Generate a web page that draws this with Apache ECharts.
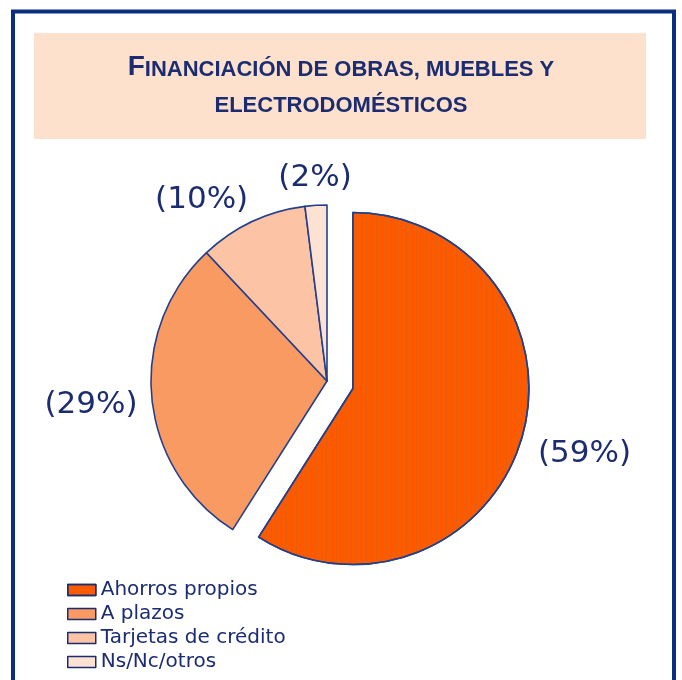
<!DOCTYPE html>
<html>
<head>
<meta charset="utf-8">
<script src="https://cdn.jsdelivr.net/npm/echarts@6/dist/echarts.min.js"></script>
<style>
html,body{margin:0;padding:0;background:#fff;}
#chart{width:682px;height:680px;}
</style>
</head>
<body>
<div id="chart"></div>
<script>
// ---- data ----
const categories = ['Ahorros propios', 'A plazos', 'Tarjetas de crédito', 'Ns/Nc/otros'];
const values = [59, 29, 10, 2];
const titleLine1First = 'F';
const titleLine1Rest = 'INANCIACIÓN DE OBRAS, MUEBLES Y';
const titleLine2 = 'ELECTRODOMÉSTICOS';

// ---- styles ----
const navy = '#1B2C70';
const sliceColors = ['#FF5A00', '#FA9A63', '#FCC4A5', '#FDE2D3'];
const labelShiftX = [3, 1, -24, 3];
const labelShiftY = [-1, 2, 34, 34];

const chart = echarts.init(document.getElementById('chart'), null, {renderer: 'canvas'});

const seriesData = categories.map((name, i) => {
  const item = {
    name: name,
    value: values[i],
    itemStyle: {color: sliceColors[i]}
  };
  if (i === 0) {
    item.selected = true;
    item.itemStyle.decal = {
      symbol: 'rect',
      symbolSize: 1,
      color: 'rgba(170,110,30,0.3)',
      dashArrayX: [1, 4],
      dashArrayY: [1, 0],
      rotation: 0
    };
  }
  return item;
});

const option = {
  animation: false,
  backgroundColor: '#ffffff',
  graphic: [
    {
      type: 'rect', z: 0,
      shape: {x: 13, y: 11.5, width: 661, height: 720},
      style: {fill: 'none', stroke: '#0A2E7E', lineWidth: 4}
    },
    {
      type: 'rect', z: 0,
      shape: {x: 34, y: 33, width: 612, height: 106},
      style: {fill: '#FDE1CC'}
    }
  ],
  title: {
    left: 'center',
    top: 45,
    padding: 0,
    text: '{big|' + titleLine1First + '}{sm|' + titleLine1Rest + '}\n{sm|' + titleLine2 + '}',
    textStyle: {
      rich: {
        big: {fontFamily: 'Liberation Sans', fontWeight: 'bold', fontSize: 28, color: navy, lineHeight: 36, verticalAlign: 'bottom'},
        sm: {fontFamily: 'Liberation Sans', fontWeight: 'bold', fontSize: 22, color: navy, lineHeight: 36, verticalAlign: 'bottom'}
      }
    }
  },
  legend: {
    orient: 'vertical',
    left: 67,
    top: 580,
    padding: 0,
    itemWidth: 28,
    itemHeight: 11,
    itemGap: 4,
    icon: 'rect',
    selectedMode: false,
    data: categories,
    itemStyle: {borderColor: navy, borderWidth: 1.5},
    textStyle: {fontFamily: 'DejaVu Sans', fontSize: 20, lineHeight: 20, color: navy, padding: [0, 0, 0, 0]}
  },
  series: [{
    type: 'pie',
    center: [327, 381],
    radius: 176,
    startAngle: 90,
    clockwise: true,
    selectedMode: 'single',
    selectedOffset: 27,
    avoidLabelOverlap: false,
    silent: true,
    itemStyle: {
      borderColor: '#24408A',
      borderWidth: 1.6
    },
    select: {itemStyle: {borderColor: '#24408A', borderWidth: 1.6}},
    emphasis: {disabled: true},
    label: {
      show: true,
      position: 'outside',
      formatter: '({c}%)',
      fontFamily: 'DejaVu Sans',
      fontSize: 31,
      color: navy,
      distanceToLabelLine: 0
    },
    labelLine: {show: false, length: 62, length2: 0},
    labelLayout: function (p) {
      return {
        align: 'center',
        verticalAlign: 'middle',
        dx: labelShiftX[p.dataIndex],
        dy: labelShiftY[p.dataIndex]
      };
    },
    data: seriesData
  }]
};

chart.setOption(option);
</script>
</body>
</html>
